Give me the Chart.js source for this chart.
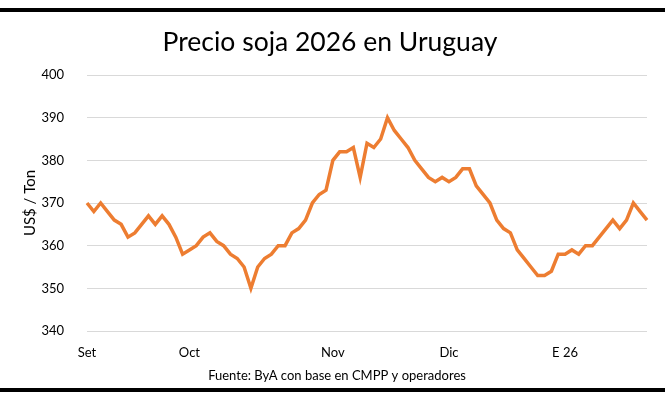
<!DOCTYPE html>
<html>
<head>
<meta charset="utf-8">
<script src="https://cdn.jsdelivr.net/npm/chart.js@4.4.1/dist/chart.umd.min.js"></script>
<style>
  html, body { margin: 0; padding: 0; background: #fff; }
  #wrap { width: 665px; height: 399px; position: relative; }
</style>
</head>
<body>
<div id="wrap"><canvas id="sojaChart" width="665" height="399"></canvas></div>
<script>
// precios diarios (US$/Ton), sep 2025 - ene 2026
const precios = [
  370, 368, 370, 368, 366, 365, 362, 363, 365, 367,
  365, 367, 365, 362, 358, 359, 360, 362, 363, 361,
  360, 358, 357, 355, 350, 355, 357, 358, 360, 360,
  363, 364, 366, 370, 372, 373, 380, 382, 382, 383,
  376, 384, 383, 385, 390, 387, 385, 383, 380, 378,
  376, 375, 376, 375, 376, 378, 378, 374, 372, 370,
  366, 364, 363, 359, 357, 355, 353, 353, 354, 358,
  358, 359, 358, 360, 360, 362, 364, 366, 364, 366,
  370, 368, 366
];
// etiquetas de mes y en que punto van
const meses = ["Set", "Oct", "Nov", "Dic", "E 26"];
const posMeses = [0, 15, 36, 53, 70];
const yTicks = [340, 350, 360, 370, 380, 390, 400];

const etiquetas = precios.map((p, i) => {
    let k = posMeses.indexOf(i);
    return k >= 0 ? meses[k] : "";
});

const fuente = "Lato, 'Open Sans', sans-serif";

// titulo, fuente y lineas negras arriba/abajo
const decoracion = {
    id: 'decoracion',
    afterDraw(chart) {
        const ctx = chart.ctx;
        ctx.save();
        ctx.fillStyle = '#000';
        ctx.fillRect(0, 8, 665, 4);
        ctx.fillRect(0, 388, 665, 4);
        ctx.textAlign = 'center';
        ctx.textBaseline = 'middle';
        ctx.font = "26.5px " + fuente;
        ctx.fillText("Precio soja 2026 en Uruguay", 330, 42);
        ctx.font = "13px " + fuente;
        ctx.fillText("Fuente: ByA con base en CMPP y operadores", 337, 376);
        ctx.restore();
    }
};

new Chart(document.getElementById('sojaChart').getContext('2d'), {
    type: 'line',
    data: {
        labels: etiquetas,
        datasets: [{
            label: 'Precio',
            data: precios,
            borderColor: '#ED7D31',
            borderWidth: 3.5,
            pointRadius: 0,
            tension: 0,
            fill: false
        }]
    },
    options: {
        responsive: false,
        animation: false,
        layout: { padding: { top: 75, right: 18, bottom: 0, left: 0 } },
        plugins: {
            legend: { display: false },
            tooltip: { enabled: false },
            title: { display: false }
        },
        scales: {
            x: {
                offset: false,
                grid: { display: false, drawTicks: false },
                border: { display: false },
                ticks: {
                    autoSkip: false,
                    maxRotation: 0,
                    padding: 14,
                    color: '#000',
                    font: { family: fuente, size: 13 },
                    callback: (v, i) => etiquetas[i]
                },
                afterFit: s => { s.height = 68; }
            },
            y: {
                min: 340,
                max: 400,
                afterBuildTicks: s => { s.ticks = yTicks.map(v => ({ value: v })); },
                grid: { color: '#d9d9d9', lineWidth: 1, drawTicks: false },
                border: { display: false },
                ticks: {
                    padding: 23,
                    color: '#000',
                    font: { family: fuente, size: 13 }
                },
                title: {
                    display: true,
                    text: 'US$ / Ton',
                    color: '#000',
                    font: { family: fuente, size: 15 },
                    padding: { top: 21, bottom: 0 }
                },
                afterFit: s => { s.width = 87; }
            }
        }
    },
    plugins: [decoracion]
});
</script>
</body>
</html>
